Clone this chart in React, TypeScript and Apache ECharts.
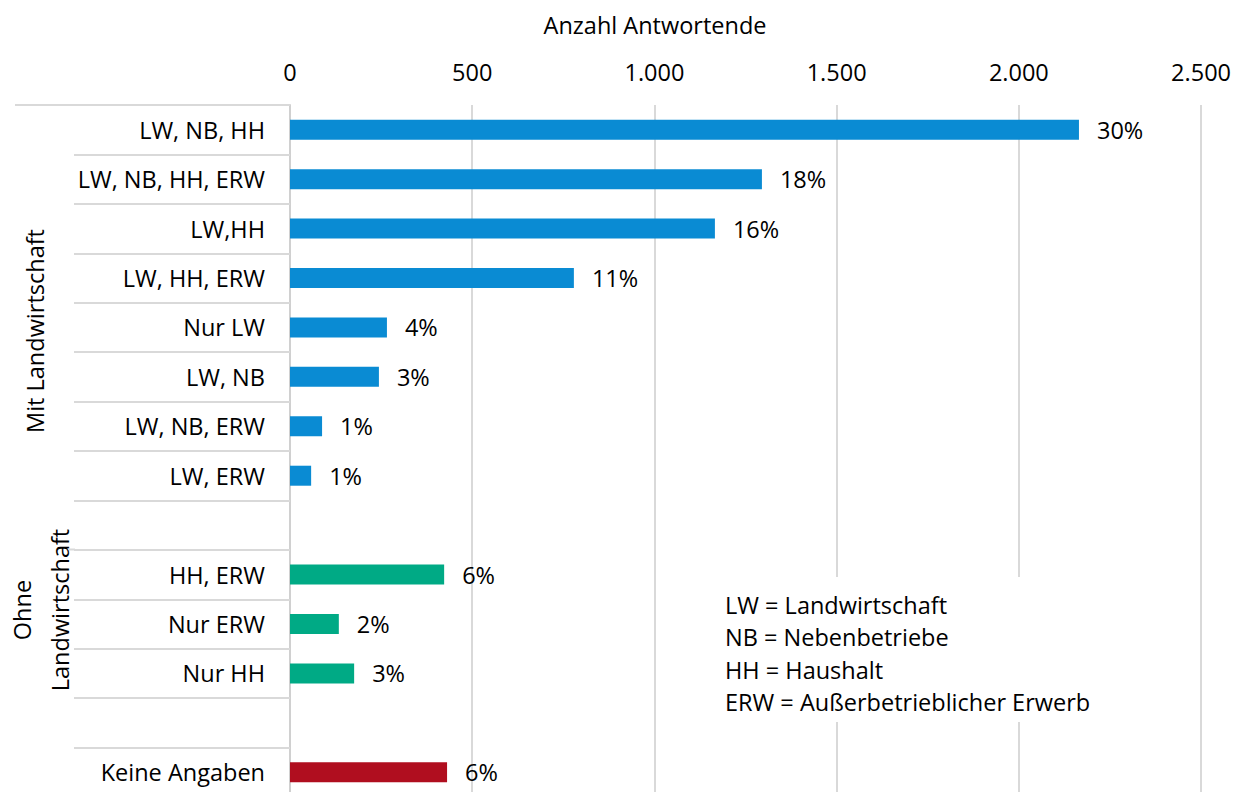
import React, { useEffect, useRef } from "react";
import * as echarts from "echarts";

const categories = [
  "LW, NB, HH",
  "LW, NB, HH, ERW",
  "LW,HH",
  "LW, HH, ERW",
  "Nur LW",
  "LW, NB",
  "LW, NB, ERW",
  "LW, ERW",
  " ",
  "HH, ERW",
  "Nur ERW",
  "Nur HH",
  "  ",
  "Keine Angaben",
];
const values: (number | null)[] = [2165, 1295, 1166, 779, 266, 244, 88, 58, null, 423, 134, 176, null, 431];
const percents = ["30%", "18%", "16%", "11%", "4%", "3%", "1%", "1%", "", "6%", "2%", "3%", "", "6%"];
const groupOf = ["mit", "mit", "mit", "mit", "mit", "mit", "mit", "mit", "", "ohne", "ohne", "ohne", "", "keine"];
const xTicks = [0, 500, 1000, 1500, 2000, 2500];
const legendLines = [
  "LW = Landwirtschaft",
  "NB = Nebenbetriebe",
  "HH = Haushalt",
  "ERW = Außerbetrieblicher Erwerb",
];

const groupColors: Record<string, string> = {
  mit: "#0a8bd3",
  ohne: "#00aa85",
  keine: "#b00e1f",
};

const FONT = "'Open Sans', sans-serif";
const FS = 23.5;

export default function App() {
  const ref = useRef<HTMLDivElement>(null);
  useEffect(() => {
    if (!ref.current) return;
    const chart = echarts.init(ref.current, undefined, { renderer: "svg" });
    const fmt = (v: number) => v.toLocaleString("de-DE");
    chart.setOption({
      animation: false,
      backgroundColor: "#ffffff",
      textStyle: { fontFamily: FONT },
      grid: { left: 290, right: 32, top: 105, bottom: 0, containLabel: false },
      xAxis: {
        type: "value",
        position: "top",
        min: xTicks[0],
        max: xTicks[xTicks.length - 1],
        interval: xTicks[1] - xTicks[0],
        axisLine: { show: false },
        axisTick: { show: false },
        axisLabel: {
          margin: 21,
          color: "#000",
          fontSize: FS,
          fontFamily: FONT,
          formatter: (v: number) => fmt(v),
        },
        splitLine: { show: true, lineStyle: { color: "#d9d9d9", width: 2 } },
      },
      yAxis: {
        type: "category",
        inverse: true,
        data: categories,
        axisLine: { show: true, lineStyle: { color: "#d0d0d0", width: 2 } },
        axisTick: { show: true, length: 216, lineStyle: { color: "#d9d9d9", width: 2 } },
        axisLabel: { margin: 25, color: "#000", fontSize: FS, fontFamily: FONT },
        splitLine: { show: false },
      },
      series: [
        {
          type: "bar",
          barWidth: 20,
          data: values.map((v, i) => ({
            value: v,
            itemStyle: { color: groupColors[groupOf[i]] || "#000" },
          })),
          label: {
            show: true,
            position: "right",
            distance: 18,
            color: "#000",
            fontSize: FS,
            fontFamily: FONT,
            formatter: (p: any) => percents[p.dataIndex],
          },
        },
      ],
      graphic: [
        {
          type: "text",
          x: 655,
          y: 25,
          style: {
            text: "Anzahl Antwortende",
            fill: "#000",
            font: `${FS}px ${FONT}`,
            textAlign: "center",
            textVerticalAlign: "middle",
          },
        },
        {
          type: "line",
          shape: { x1: 15, y1: 105, x2: 290, y2: 105 },
          style: { stroke: "#d9d9d9", lineWidth: 2 },
        },
        {
          type: "line",
          shape: { x1: 69, y1: 549.5, x2: 75, y2: 549.5 },
          style: { stroke: "#d9d9d9", lineWidth: 2 },
        },
        {
          type: "text",
          x: 35,
          y: 331,
          rotation: Math.PI / 2,
          style: {
            text: "Mit Landwirtschaft",
            fill: "#000",
            font: `${FS}px ${FONT}`,
            textAlign: "center",
            textVerticalAlign: "middle",
          },
        },
        {
          type: "text",
          x: 41,
          y: 610,
          rotation: Math.PI / 2,
          style: {
            text: "Ohne\nLandwirtschaft",
            fill: "#000",
            font: `${FS}px ${FONT}`,
            lineHeight: 38,
            textAlign: "center",
            textVerticalAlign: "middle",
          },
        },
        {
          type: "rect",
          z: 100,
          shape: { x: 712, y: 577, width: 400, height: 145 },
          style: { fill: "#ffffff" },
        },
        ...legendLines.map((t, i) => ({
          type: "text",
          z: 101,
          x: 725,
          y: 605 + i * 32.3,
          style: {
            text: t,
            fill: "#000",
            font: `${FS}px ${FONT}`,
            textAlign: "left",
            textVerticalAlign: "middle",
          },
        })),
      ],
    });
    return () => chart.dispose();
  }, []);
  return (
    <div
      style={{ position: "absolute", left: 0, top: 0, width: 1234, height: 792, overflow: "hidden", background: "#fff" }}
    >
      <div ref={ref} style={{ width: 1234, height: 797 }} />
    </div>
  );
}
